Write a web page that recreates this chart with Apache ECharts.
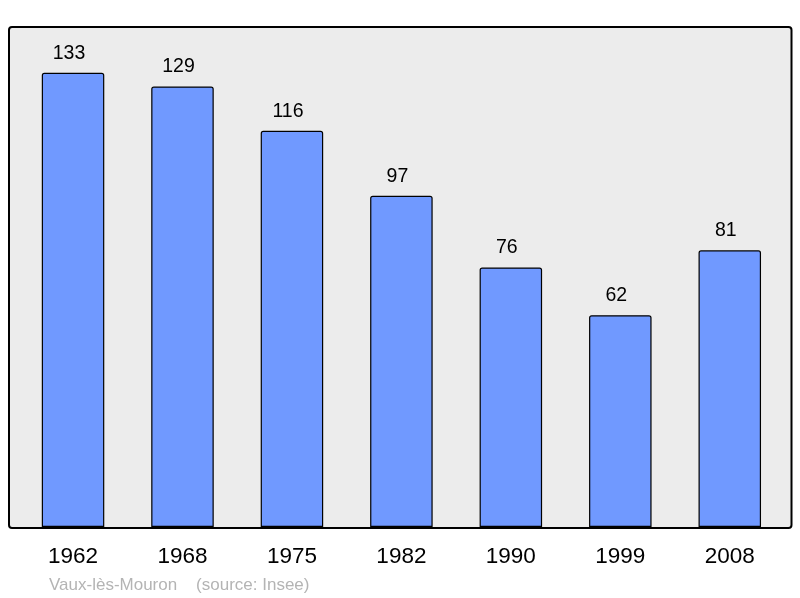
<!DOCTYPE html>
<html><head><meta charset="utf-8">
<script src="https://cdn.jsdelivr.net/npm/echarts@6/dist/echarts.min.js"></script>
<style>html,body{margin:0;padding:0;background:#fff}#c{width:800px;height:598px}</style>
</head><body><div id="c"></div>
<script>
const categories = ['1962','1968','1975','1982','1990','1999','2008'];
const values = [133,129,116,97,76,62,81];
const footer = 'Vaux-lès-Mouron    (source: Insee)';
const chart = echarts.init(document.getElementById('c'));
chart.setOption({
  animation:false,
  textStyle:{fontFamily:'Liberation Sans'},
  graphic:[
    {type:'rect',shape:{x:9,y:27,width:782.5,height:501,r:3},style:{fill:'#ececec',stroke:'#000',lineWidth:2},z:-10},
    {type:'text',left:49,top:577,style:{text:footer,fill:'#b4b4b4',fontSize:17,fontFamily:'Liberation Sans'}}
  ],
  grid:{left:18.3,right:15.5,top:27,bottom:71},
  xAxis:{type:'category',data:categories,axisLine:{show:false},axisTick:{show:false},
    axisLabel:{color:'#000',fontSize:22.5,margin:18}},
  yAxis:{type:'value',min:0,max:146.4,show:false,splitLine:{show:false}},
  series:[{type:'bar',data:values,barWidth:62.5,
    itemStyle:{color:'#7099ff',borderColor:'#000',borderWidth:1.2,borderRadius:[2,2,0,0]},
    label:{show:true,position:'top',distance:9.5,offset:[-4,0],color:'#000',fontSize:19.5}}]
});
</script></body></html>
